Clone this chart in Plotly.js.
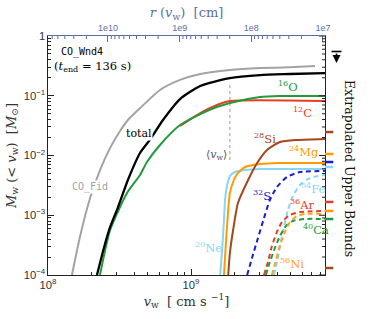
<!DOCTYPE html>
<html><head><meta charset="utf-8">
<script src="https://cdn.plot.ly/plotly-3.0.1.min.js"></script>
<style>html,body{margin:0;padding:0;background:#fff}#c{width:374px;height:319px}</style>
</head><body><div id="c"></div>
<script>
// ---- data (v_w in cm/s, M_w in Msun) ----
const vFid = [1.47e8,1.67e8,1.97e8,2.31e8,2.72e8,3.19e8,3.62e8,4.40e8,6.07e8,8.38e8,1.16e9,1.87e9,3.04e9,4.92e9,7.36e9];
const mFid = [1e-4,4.3e-4,1.95e-3,5.7e-3,1.34e-2,2.57e-2,3.93e-2,6.2e-2,0.125,0.184,0.231,0.27,0.29,0.30,0.315];
const vTot = [2.20e8,2.47e8,2.72e8,3.09e8,3.62e8,4.40e8,5.15e8,6.37e8,8.38e8,1.16e9,1.87e9,3.04e9,4.92e9,8.65e9];
const mTot = [1e-4,2.94e-4,6.36e-4,1.37e-3,3.89e-3,1.10e-2,1.82e-2,3.93e-2,8.8e-2,0.146,0.198,0.222,0.231,0.24];
const vO = [2.31e8,2.72e8,3.57e8,4.40e8,4.92e8,6.07e8,8.38e8,1.29e9,1.87e9,3.04e9,4.19e9,8.65e9];
const mO = [1e-4,5.66e-4,2.36e-3,4.72e-3,7.78e-3,1.50e-2,3.24e-2,5.56e-2,7.56e-2,9.53e-2,9.9e-2,9.9e-2];
const vC = [8.38e8,1.16e9,1.52e9,1.87e9,8.65e9];
const mC = [3.12e-2,5.14e-2,7.0e-2,8.17e-2,8.17e-2];
const vNe = [1.60e9,1.65e9,1.70e9,1.73e9,1.79e9,1.87e9,2.03e9,2.39e9,3.04e9,8.65e9];
const mNe = [1e-4,2.62e-4,8.33e-4,1.80e-3,3.21e-3,4.54e-3,5.30e-3,5.72e-3,5.94e-3,5.94e-3];
const vMg = [1.70e9,1.76e9,1.82e9,1.87e9,1.97e9,2.10e9,2.39e9,3.04e9,4.19e9,8.65e9];
const mMg = [1e-4,3.85e-4,1.22e-3,2.36e-3,3.6e-3,4.9e-3,6.42e-3,7.21e-3,7.49e-3,7.49e-3];
const vSi = [1.82e9,1.87e9,1.97e9,2.13e9,2.47e9,2.90e9,3.40e9,4.19e9,5.51e9,8.65e9];
const mSi = [1e-4,2.33e-4,5.66e-4,1.60e-3,3.60e-3,7.49e-3,1.24e-2,1.68e-2,1.82e-2,1.89e-2];
const vS = [2.47e9,2.67e9,2.94e9,3.24e9,3.56e9,3.99e9,4.69e9,5.78e9,8.65e9];
const mS = [1e-4,1.93e-4,4.16e-4,9.0e-4,1.80e-3,2.97e-3,4.37e-3,5.30e-3,5.5e-3];
const vFe = [3.80e9,3.99e9,4.39e9,4.76e9,5.16e9,5.78e9,6.58e9,7.73e9,8.65e9];
const mFe = [1e-4,1.65e-4,5.25e-4,1.22e-3,2.10e-3,3.21e-3,4.04e-3,4.54e-3,4.72e-3];
const vAr = [3.24e9,3.45e9,3.68e9,3.99e9,4.33e9,4.92e9,5.78e9,8.65e9];
const mAr = [1e-4,1.65e-4,3.06e-4,5.25e-4,7.71e-4,1.01e-3,1.13e-3,1.18e-3];
const vNi = [3.68e9,3.93e9,4.19e9,4.54e9,4.92e9,5.51e9,6.27e9,8.65e9];
const mNi = [1e-4,1.78e-4,3.18e-4,5.25e-4,7.71e-4,9.7e-4,1.05e-3,1.05e-3];
const vCa = [3.34e9,3.56e9,3.86e9,4.19e9,4.61e9,5.16e9,6.27e9,8.65e9];
const mCa = [1e-4,1.65e-4,2.83e-4,4.50e-4,6.61e-4,8.02e-4,8.65e-4,8.65e-4];
const vMean = 1.87e9;
const vMeanSpan = [0.151, 8.4e-3];
// extrapolated upper bounds (M_sun)
const boundVals   = [0.0247, 0.0106, 7.78e-3, 6.42e-3, 1.67e-3, 1.18e-3, 8.65e-4, 1.31e-4];
const boundColors = ['#a5461c','#ff9a00','#1c1cd0','#86d6f5','#ec3d22','#ff9a00','#1f9a3c','#a5461c'];
// top axis r(v_w) [cm]
const rTickVals = [1e7,1e8,1e9,1e10];
const rTickText = ['1e7','1e8','1e9','1e10'];
const rRangeLog = [10.837, 6.972];

const C = {gray:'#a3a3a3', O:'#1f9a3c', C:'#ec3d22', Si:'#a5461c', Mg:'#ff9a00', Ne:'#86d6f5',
           S:'#1c1cd0', Fe:'#86d6f5', Ar:'#ec3d22', Ni:'#ffa21f', Ca:'#1f9a3c'};
const dsh = '5px,3.5px';
function ln(x,y,color,w,dash){return {x:x,y:y,type:'scatter',mode:'lines',line:{color:color,width:w,dash:dash||'solid',shape:'spline',smoothing:0.6},hoverinfo:'skip',showlegend:false};}

const traces = [
  {x:[vMean,vMean], y:vMeanSpan, type:'scatter', mode:'lines', line:{color:'#999',width:1,dash:'dot'}, hoverinfo:'skip', showlegend:false},
  ln(vFid,mFid,C.gray,2),
  ln(vC,mC,C.C,2),
  ln(vO,mO,C.O,2),
  ln(vTot,mTot,'#000',2.3),
  ln(vNe,mNe,C.Ne,2),
  ln(vMg,mMg,C.Mg,2),
  ln(vSi,mSi,C.Si,2),
  ln(vS,mS,C.S,2,dsh),
  ln(vFe,mFe,C.Fe,2,dsh),
  ln(vAr,mAr,C.Ar,2,dsh),
  ln(vCa,mCa,C.Ca,2,dsh),
  ln(vNi,mNi,C.Ni,2,dsh),
  {x:[],y:[],xaxis:'x2',yaxis:'y',type:'scatter',mode:'lines',showlegend:false,hoverinfo:'skip'}
];

// tick-mark positions (2..9 x each decade)
function minorLog(lo, hi){const a=[];for(let e=lo;e<=hi;e++){for(let d=2;d<=9;d++)a.push(d*Math.pow(10,e));}return a;}

const L=48, R=325, T=36, B=275, W=R-L, H=B-T;
const px = x => (x-L)/W, py = y => (B-y)/H;
const serif = 'DejaVu Serif', mono = 'DejaVu Sans Mono', sans = 'Liberation Sans';
function ann(text, x, y, color, size, fam, bg){return {text:text, x:px(x), y:py(y), xref:'paper', yref:'paper', showarrow:false, xanchor:'center', yanchor:'middle', bgcolor:bg||'rgba(0,0,0,0)', borderpad:0, font:{family:fam||serif, size:size||11, color:color}};}

const annotations = [
  ann('CO_Wnd4', 82, 52, '#000', 10, mono),
  ann('(<i>t</i><sub>end</sub> = 136 s)', 92, 66, '#000', 11.5),
  ann('total', 139, 133, '#000', 11, serif, '#fff'),
  ann('CO_Fid', 90, 187, C.gray, 10, mono, '#fff'),
  ann('<sup>16</sup>O', 288, 86, C.O, 11.5),
  ann('<sup>12</sup>C', 302, 112, C.C, 11.5),
  ann('<sup>28</sup>Si', 265, 138, C.Si, 11.5),
  ann('<sup>24</sup>Mg', 304, 151, C.Mg, 11.5),
  ann('⟨<i>v</i><sub>w</sub>⟩', 216, 155, '#555', 11),
  ann('<sup>32</sup>S', 262, 195, C.S, 11.5),
  ann('<sup>54</sup>Fe', 313, 188, C.Fe, 11.5),
  ann('<sup>36</sup>Ar', 302, 204, C.Ar, 11.5),
  ann('<sup>40</sup>Ca', 316, 229, C.Ca, 11.5),
  ann('<sup>56</sup>Ni', 292, 263, C.Ni, 11.5),
  ann('<sup>20</sup>Ne', 208, 247, C.Ne, 11.5),
  {text:'Extrapolated Upper Bounds', x:px(350), y:py(168), xref:'paper', yref:'paper', showarrow:false, textangle:90, xanchor:'center', yanchor:'middle', font:{family:serif, size:12.5, color:'#111'}},
  {text:'', x:px(336.5), y:py(63), xref:'paper', yref:'paper', showarrow:true, ax:0, ay:-11, arrowhead:2, arrowsize:1, arrowwidth:1.6, arrowcolor:'#000'}
];

const shapes = [];
// right-side (mirrored) y tick marks, pointing into the plot
[1e-4,1e-3,1e-2,1e-1,1].forEach(v=>shapes.push({type:'line', xref:'paper', yref:'y', x0:1-6/W, x1:1, y0:v, y1:v, line:{color:'#222', width:1}}));
minorLog(-4,-1).forEach(v=>shapes.push({type:'line', xref:'paper', yref:'y', x0:1-3/W, x1:1, y0:v, y1:v, line:{color:'#222', width:1}}));
// top axis minor tick marks, pointing into the plot
minorLog(6,10).filter(v=>Math.log10(v)>rRangeLog[1] && Math.log10(v)<rRangeLog[0])
  .forEach(v=>shapes.push({type:'line', xref:'x2', yref:'paper', x0:v, x1:v, y0:1-3/H, y1:1, line:{color:'#5b6fa5', width:1}}));
// extrapolated upper-bound markers
boundVals.forEach((v,i)=>shapes.push({type:'line', xref:'paper', yref:'y', x0:1.0, x1:1.03, y0:v, y1:v, line:{color:boundColors[i], width:2.5}}));
shapes.push({type:'line', xref:'paper', yref:'paper', x0:px(331.5), x1:px(341.5), y0:py(51.5), y1:py(51.5), line:{color:'#000', width:1.6}});

const tickfont = {family:sans, size:9, color:'#333'};
const minorK = {ticks:'inside', ticklen:3, dtick:'D1', tickcolor:'#222', showgrid:false};
const layout = {
  width:374, height:319,
  margin:{l:L, r:374-R, t:T, b:319-B, pad:0},
  paper_bgcolor:'#fff', plot_bgcolor:'#fff',
  showlegend:false,
  xaxis:{type:'log', range:[8, 9.937], dtick:1, exponentformat:'power', showline:true, linecolor:'#222', linewidth:1,
         mirror:false, ticks:'inside', ticklen:6, tickwidth:1, tickcolor:'#222', showgrid:false, zeroline:false,
         tickfont:tickfont, minor:minorK,
         title:{text:'<i>v</i><sub>w</sub>  [ cm s <sup>−1</sup>]', font:{family:serif, size:13, color:'#333'}, standoff:6}},
  xaxis2:{type:'log', overlaying:'x', side:'top', anchor:'y', range:rRangeLog, tickmode:'array', tickvals:rTickVals, ticktext:rTickText,
          showline:true, linecolor:'#5b6fa5', linewidth:1, ticks:'inside', ticklen:6, tickcolor:'#5b6fa5', showgrid:false, zeroline:false,
          tickfont:{family:sans, size:9, color:'#5b6fa5'},
          title:{text:'<i>r</i> (<i>v</i><sub>w</sub>)  [cm]', font:{family:serif, size:13, color:'#5b6fa5'}, standoff:2}},
  yaxis:{type:'log', range:[-4,0], dtick:1, exponentformat:'power', showline:true, linecolor:'#222', linewidth:1,
         mirror:true, ticks:'inside', ticklen:6, tickcolor:'#222', showgrid:false, zeroline:false, tickfont:tickfont,
         minor:minorK,
         title:{text:'<i>M</i><sub>w</sub> (&lt; <i>v</i><sub>w</sub>)  [<i>M</i><sub>⊙</sub>]', font:{family:serif, size:13, color:'#333'}, standoff:4}},
  annotations:annotations,
  shapes:shapes
};
Plotly.newPlot('c', traces, layout, {staticPlot:true, displayModeBar:false});
</script></body></html>
